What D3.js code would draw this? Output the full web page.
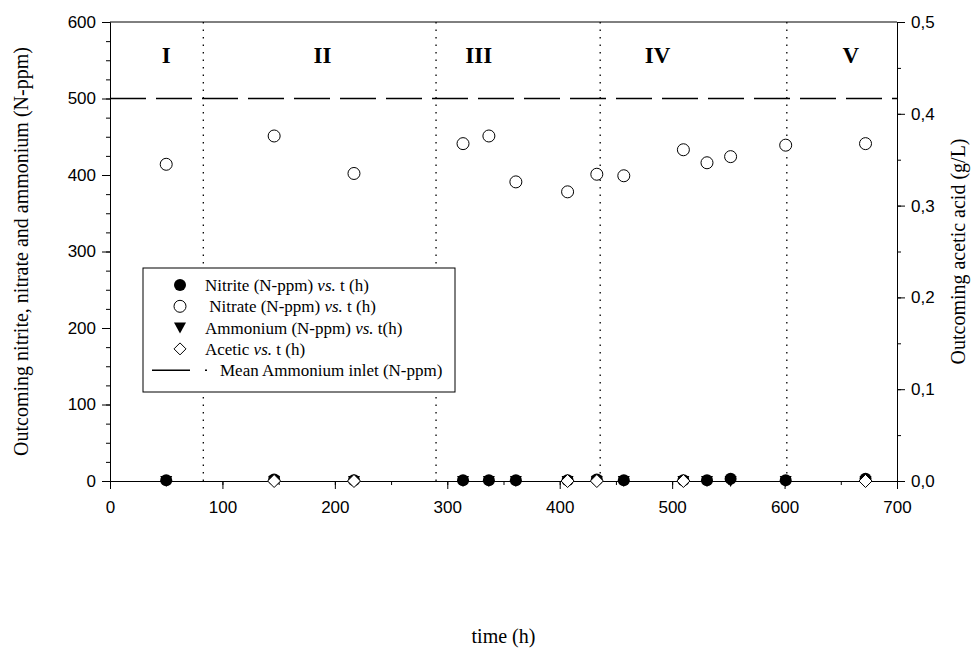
<!DOCTYPE html>
<html><head><meta charset="utf-8">
<script src="https://cdn.jsdelivr.net/npm/d3@7"></script>
<style>body{margin:0;background:#fff}</style>
</head><body>
<svg id="c" width="978" height="655"></svg>
<script>
const times   = [50,146,217,314,337,361,407,433,457,510,531,552,601,672];
const nitrate = [414,451,402,441,451,391,378,401,399,433,416,424,439,441];
const nitrite = [1,2,1,1,1,1,1,2,1,1,1,3,1,3];
const ammonium= [0,0,0,0,0,0,0,0,0,0,0,0,0,0];
const aceticT = [146,217,407,433,510,672];
const acetic  = [0,0,0,0,0,0];
const meanInlet = 500;
const phaseBounds = [83,290,436,602];
const phaseLabels = ["I","II","III","IV","V"];
const phasePos = [50,189,328,487,659];
const xTicks = [0,100,200,300,400,500,600,700];
const yTicks = [0,100,200,300,400,500,600];
const y2Ticks = [0,0.1,0.2,0.3,0.4,0.5];

const svg = d3.select("#c");
const L=110,R=897,T=22,B=481;
const x = d3.scaleLinear().domain([0,700]).range([L,R]);
const y = d3.scaleLinear().domain([0,600]).range([B,T]);
const y2 = d3.scaleLinear().domain([0,0.5]).range([B,T]);
const sans = "Liberation Sans, Arial, sans-serif";
const serif = "Liberation Serif, Times New Roman, serif";

svg.append("line").attr("x1",L).attr("x2",R).attr("y1",T).attr("y2",T).attr("stroke","#000").attr("stroke-width",1);

function styleAxis(g){
  g.select(".domain").attr("stroke","#000");
  g.selectAll("text").attr("font-family",sans).attr("font-size",17).attr("fill","#000");
  g.selectAll("line").attr("stroke","#000");
}
svg.append("g").attr("transform",`translate(0,${B})`)
  .call(d3.axisBottom(x).tickValues(d3.range(0,701,50)).tickSize(4).tickSizeOuter(0).tickFormat("")).call(styleAxis);
svg.append("g").attr("transform",`translate(0,${B})`)
  .call(d3.axisBottom(x).tickValues(xTicks).tickSize(8).tickSizeOuter(0).tickPadding(12).tickFormat(d3.format("d"))).call(styleAxis);
svg.append("g").attr("transform",`translate(${L},0)`)
  .call(d3.axisLeft(y).tickValues(d3.range(0,601,25)).tickSize(4).tickSizeOuter(0).tickFormat("")).call(styleAxis);
svg.append("g").attr("transform",`translate(${L},0)`)
  .call(d3.axisLeft(y).tickValues(yTicks).tickSize(8).tickSizeOuter(0).tickPadding(6).tickFormat(d3.format("d"))).call(styleAxis);
svg.append("g").attr("transform",`translate(${R},0)`)
  .call(d3.axisRight(y2).tickValues(d3.range(0,0.501,0.05)).tickSize(4).tickSizeOuter(0).tickFormat("")).call(styleAxis);
svg.append("g").attr("transform",`translate(${R},0)`)
  .call(d3.axisRight(y2).tickValues(y2Ticks).tickSize(8).tickSizeOuter(0).tickPadding(6).tickFormat(d=>d3.format(".1f")(d).replace(".",","))).call(styleAxis);

svg.selectAll(".ph").data(phaseBounds).enter().append("line")
  .attr("x1",d=>x(d)).attr("x2",d=>x(d)).attr("y1",T).attr("y2",B)
  .attr("stroke","#000").attr("stroke-width",1.3).attr("stroke-dasharray","1.5,6");
svg.selectAll(".pl").data(phaseLabels).enter().append("text")
  .attr("x",(d,i)=>x(phasePos[i])).attr("y",63).attr("text-anchor","middle")
  .attr("font-family",serif).attr("font-weight","bold").attr("font-size",23).text(d=>d);

svg.append("line").attr("x1",L).attr("x2",R).attr("y1",y(meanInlet)).attr("y2",y(meanInlet))
  .attr("stroke","#000").attr("stroke-width",1.5).attr("stroke-dasharray","36,10");

const tri = "M-6,-5L6,-5L0,6Z";
svg.selectAll(".ni").data(times).enter().append("circle")
  .attr("cx",d=>x(d)).attr("cy",(d,i)=>y(nitrite[i])).attr("r",6).attr("fill","#000");
svg.selectAll(".am").data(times).enter().append("path")
  .attr("d",tri).attr("transform",(d,i)=>`translate(${x(d)},${y(ammonium[i])})`).attr("fill","#000");
svg.selectAll(".na").data(times).enter().append("circle")
  .attr("cx",d=>x(d)).attr("cy",(d,i)=>y(nitrate[i])).attr("r",6).attr("fill","#fff").attr("stroke","#000").attr("stroke-width",1);
svg.selectAll(".ac").data(aceticT).enter().append("path")
  .attr("d","M0,-6.5L6.5,0L0,6.5L-6.5,0Z").attr("transform",(d,i)=>`translate(${x(d)},${y2(acetic[i])})`)
  .attr("fill","#fff").attr("stroke","#000").attr("stroke-width",1);

const lg = svg.append("g");
lg.append("rect").attr("x",143).attr("y",268).attr("width",312).attr("height",124).attr("fill","#fff").attr("stroke","#000").attr("stroke-width",1);
const rows = [
  {k:"fc", parts:[["Nitrite (N-ppm) ",0],["vs.",1],[" t (h)",0]]},
  {k:"oc", parts:[[" Nitrate (N-ppm) ",0],["vs.",1],[" t (h)",0]]},
  {k:"tr", parts:[["Ammonium (N-ppm) ",0],["vs.",1],[" t(h)",0]]},
  {k:"di", parts:[["Acetic ",0],["vs.",1],[" t (h)",0]]},
  {k:"ln", parts:[["Mean Ammonium inlet (N-ppm)",0]]}
];
rows.forEach((r,i)=>{
  const yy = 285 + i*21.3;
  if(r.k==="fc") lg.append("circle").attr("cx",180).attr("cy",yy).attr("r",6).attr("fill","#000");
  if(r.k==="oc") lg.append("circle").attr("cx",180).attr("cy",yy).attr("r",6).attr("fill","#fff").attr("stroke","#000");
  if(r.k==="tr") lg.append("path").attr("d",tri).attr("transform",`translate(180,${yy})`).attr("fill","#000");
  if(r.k==="di") lg.append("path").attr("d","M0,-6L6,0L0,6L-6,0Z").attr("transform",`translate(180,${yy})`).attr("fill","#fff").attr("stroke","#000");
  if(r.k==="ln"){
    lg.append("line").attr("x1",152).attr("x2",190).attr("y1",yy).attr("y2",yy).attr("stroke","#000").attr("stroke-width",1.5);
    lg.append("line").attr("x1",205).attr("x2",207).attr("y1",yy).attr("y2",yy).attr("stroke","#000").attr("stroke-width",1.5);
  }
  const t = lg.append("text").attr("x", r.k==="ln"?220:205).attr("y",yy+6)
    .attr("font-family",serif).attr("font-size",17).attr("xml:space","preserve").style("white-space","pre");
  r.parts.forEach(p=>t.append("tspan").attr("font-style",p[1]?"italic":"normal").text(p[0]));
});

svg.append("text").attr("transform",`translate(28,${(T+B)/2}) rotate(-90)`).attr("text-anchor","middle")
  .attr("font-family",serif).attr("font-size",20).text("Outcoming nitrite, nitrate and ammonium (N-ppm)");
svg.append("text").attr("transform",`translate(965,${(T+B)/2}) rotate(-90)`).attr("text-anchor","middle")
  .attr("font-family",serif).attr("font-size",20).text("Outcoming acetic acid (g/L)");
svg.append("text").attr("x",(L+R)/2).attr("y",643).attr("text-anchor","middle")
  .attr("font-family",serif).attr("font-size",20).text("time (h)");
</script>
</body></html>
